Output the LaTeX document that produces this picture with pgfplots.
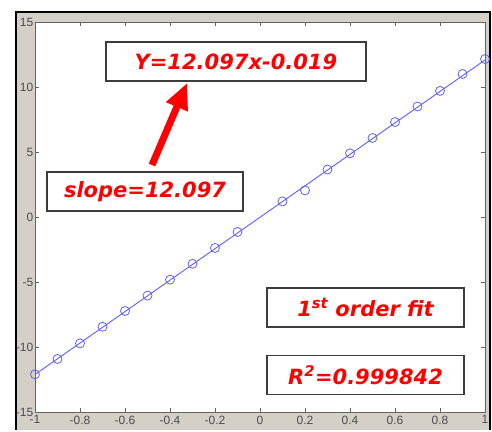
\documentclass[border=0pt]{standalone}
\usepackage{pgfplots}
\pgfplotsset{compat=1.18}
\usepackage{pgfplotstable}
\usepackage{fontspec}
\setmainfont{Liberation Sans}
\newfontfamily\comic{DejaVu Sans}
\usetikzlibrary{arrows.meta}

\definecolor{figgray}{RGB}{212,208,200}
\definecolor{axgray}{RGB}{100,100,100}
\definecolor{lineblue}{RGB}{95,95,255}
\definecolor{boxgray}{RGB}{60,60,60}

% measured data points (no sample at x=0)
\pgfplotstableread{
x y
-1.0 -12.10
-0.9 -10.92
-0.8 -9.72
-0.7 -8.44
-0.6 -7.23
-0.5 -6.05
-0.4 -4.82
-0.3 -3.60
-0.2 -2.38
-0.1 -1.15
0.1 1.20
0.2 2.05
0.3 3.65
0.4 4.90
0.5 6.08
0.6 7.30
0.7 8.50
0.8 9.70
0.9 11.00
1.0 12.15
}\measured

\begin{document}
\begin{tikzpicture}[x=1pt,y=1pt]
\fill[white] (0,0) rectangle (492,430);
\fill[figgray] (15,0) rectangle (491,419);
\draw[black, line width=2pt] (16,0) -- (16,418) -- (490,418) -- (490,0);
\begin{axis}[
  at={(35pt,18pt)}, anchor=south west, scale only axis,
  width=450pt, height=390pt,
  xmin=-1, xmax=1, ymin=-15, ymax=15, clip=false,
  axis background/.style={fill=white},
  axis line style={axgray, line width=0.9pt},
  tick style={axgray, line width=0.6pt}, major tick length=4pt, tick align=inside,
  xtick={-1,-0.8,-0.6,-0.4,-0.2,0,0.2,0.4,0.6,0.8,1},
  xticklabels={-1,-0.8,-0.6,-0.4,-0.2,0,0.2,0.4,0.6,0.8,1},
  ytick={-15,-10,-5,0,5,10,15},
  yticklabels={-15,-10,-5,0,5,10,15},
  xticklabel style={font=\fontsize{12}{13}\selectfont, text=black!70, inner sep=1pt, yshift=-2.5pt},
  yticklabel style={font=\fontsize{12}{13}\selectfont, text=black!70, inner sep=1.5pt},
]
% fitted line y = 12.097x - 0.019
\addplot[lineblue, line width=0.9pt] coordinates {(-1,-12.116) (1,12.078)};
\addplot[only marks, mark=o, mark size=4.5pt, mark options={lineblue, line width=0.8pt}] table {\measured};

\tikzset{ann/.style={draw=boxgray, line width=1.2pt, fill=white, text=red,
  minimum height=39pt, inner sep=0pt,
  font=\comic\bfseries\itshape\fontsize{21}{24}\selectfont}}
\node[ann, minimum width=260pt] at (axis cs:-0.107,11.96) {Y=12.097x-0.019};
\node[ann, minimum width=196pt] at (axis cs:-0.511,1.96) {slope=12.097};
\node[ann, minimum width=197pt] at (axis cs:0.469,-6.96) {1\textsuperscript{st} order fit};
\node[ann, minimum width=197pt] at (axis cs:0.469,-12.15) {R\textsuperscript{2}=0.999842};
\draw[red, line width=7pt, -{Triangle[length=26pt,width=22pt]}]
  (axis cs:-0.48,4.0) -- (axis cs:-0.324,10.31);
\end{axis}
\end{tikzpicture}
\end{document}
